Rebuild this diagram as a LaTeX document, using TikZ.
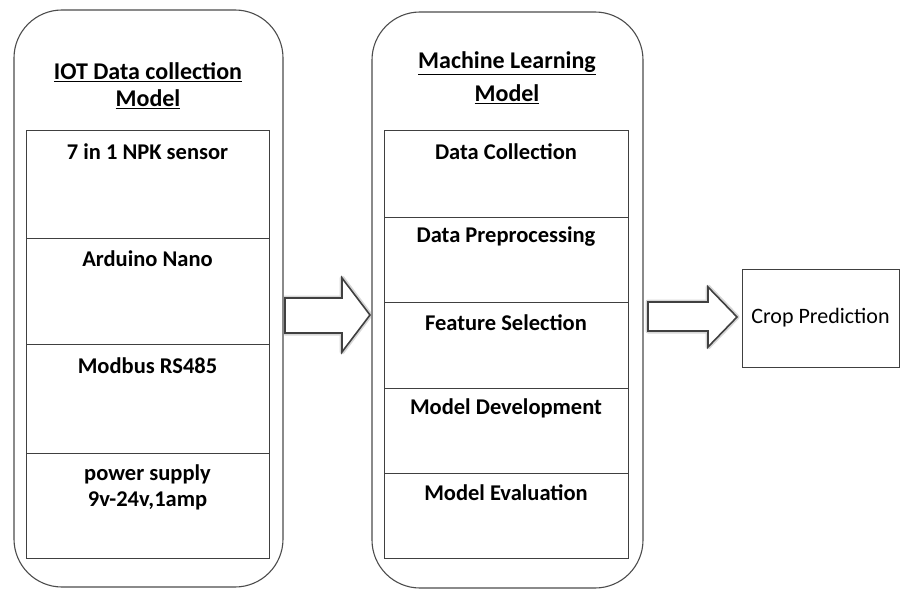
\documentclass[tikz,border=0pt]{standalone}
\usepackage{fontspec}
\setmainfont{Carlito}
\usetikzlibrary{calc}
\begin{document}
\begin{tikzpicture}[x=1pt,y=-1pt,
  container/.style={draw=black!70,line width=1.1pt,rounded corners=48pt,inner sep=0pt},
  cell/.style={draw=black!75,line width=1pt,inner sep=0pt},
  head/.style={font=\fontsize{24}{29}\selectfont\bfseries,align=center,inner sep=0pt},
  celltxt/.style={font=\fontsize{22.5}{26}\selectfont\bfseries,align=center,inner sep=0pt},
  blockarrow/.style={draw=black!75,line width=1.6pt,fill=white,line join=miter},
  glow/.style={draw=black!45,line width=5pt,opacity=0.35,line join=round},
]
\useasboundingbox (0,0) rectangle (901,591);
% containers
\node[container,minimum width=269pt,minimum height=577pt] (L) at (148.5,298.5) {};
\node[container,minimum width=271pt,minimum height=576pt] (M) at (507.5,300) {};
% headings
\node[head] (Lh1) at (148,72) {\underline{IOT Data collection}};
\node[head] (Lh2) at (148,99) {\underline{Model}};
\node[head] (Mh1) at (507,63) {\underline{Machine Learning}};
\node[head] (Mh2) at (507,94) {\underline{Model}};
% left cells
\node[cell,minimum width=243pt,minimum height=108pt] (L1) at (147.5,184) {};
\node[cell,minimum width=243pt,minimum height=106pt] (L2) at (147.5,291) {};
\node[cell,minimum width=243pt,minimum height=109pt] (L3) at (147.5,398.5) {};
\node[cell,minimum width=243pt,minimum height=105pt] (L4) at (147.5,505.5) {};
\node[celltxt] (L1t) at (147.5,152) {7 in 1 NPK sensor};
\node[celltxt] (L2t) at (147.5,259) {Arduino Nano};
\node[celltxt] (L3t) at (147.5,366) {Modbus RS485};
\node[celltxt] (L4t) at (147.5,487.5) {power supply\\9v-24v,1amp};
% middle cells
\node[cell,minimum width=244pt,minimum height=87pt] (M1) at (506,173.5) {};
\node[cell,minimum width=244pt,minimum height=85pt] (M2) at (506,259.5) {};
\node[cell,minimum width=244pt,minimum height=86pt] (M3) at (506,345) {};
\node[cell,minimum width=244pt,minimum height=85pt] (M4) at (506,430.5) {};
\node[cell,minimum width=244pt,minimum height=85pt] (M5) at (506,515.5) {};
\node[celltxt] (M1t) at (506,152) {Data Collection};
\node[celltxt] (M2t) at (506,237) {Data Preprocessing};
\node[celltxt] (M3t) at (506,323) {Feature Selection};
\node[celltxt] (M4t) at (506,408) {Model Development};
\node[celltxt] (M5t) at (506,493) {Model Evaluation};
% output box
\node[cell,minimum width=157pt,minimum height=98pt,font=\fontsize{22}{26}\selectfont] (C) at (820.5,318) {Crop Prediction};
% block arrows
\path[glow] (285,298) -- (342,298) -- (342,278) -- (370,315) -- (342,352) -- (342,333) -- (285,333) -- cycle;
\path[blockarrow] (285,298) -- (342,298) -- (342,278) -- (370,315) -- (342,352) -- (342,333) -- (285,333) -- cycle;
\path[glow] (648,302) -- (708,302) -- (708,287) -- (737,317) -- (708,347) -- (708,331) -- (648,331) -- cycle;
\path[blockarrow] (648,302) -- (708,302) -- (708,287) -- (737,317) -- (708,347) -- (708,331) -- (648,331) -- cycle;
\end{tikzpicture}
\end{document}
